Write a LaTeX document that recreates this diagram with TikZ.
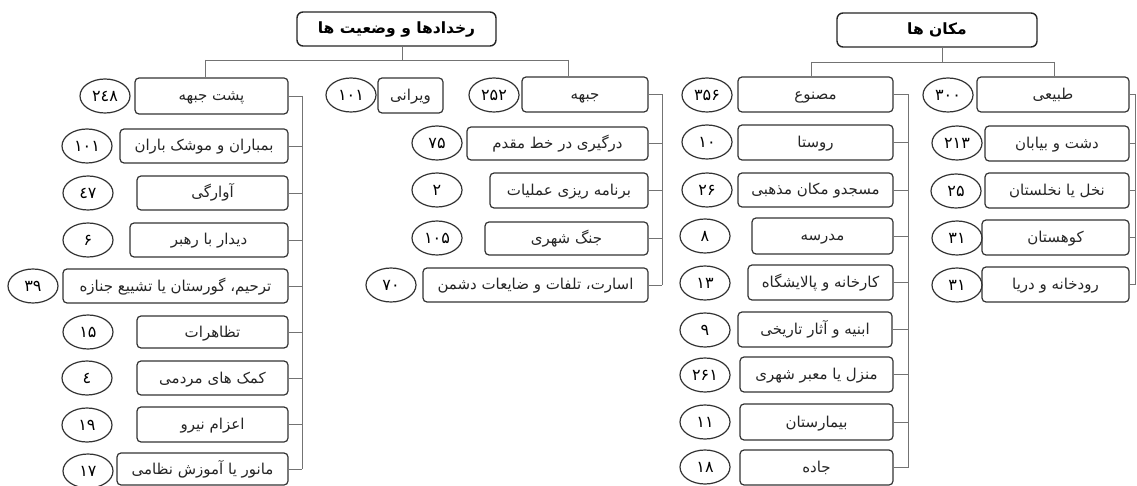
\documentclass[tikz,border=0pt]{standalone}
\usepackage{fontspec}
\usetikzlibrary{shapes.geometric}
\TeXXeTstate=1
\newfontfamily\arabicfont[Script=Arabic]{DejaVu Sans}
\tikzset{
  box/.style={draw=black!80, line width=1.2pt, rounded corners=4pt, inner sep=0pt,
    text height=11pt, text depth=1pt,
    font=\arabicfont\fontsize{15}{17}\selectfont, text=black!85},
  hbox/.style={draw=black!85, line width=1.4pt, rounded corners=6pt, inner sep=0pt,
    text height=11pt, text depth=1pt,
    font=\arabicfont\bfseries\fontsize{15.5}{17}\selectfont},
  num/.style={ellipse, draw=black!80, line width=1.2pt, minimum width=50pt,
    minimum height=34pt, inner sep=0pt, font=\arabicfont\fontsize{16}{18}\selectfont},
  conn/.style={draw=black!55, line width=0.8pt},
}
\newcommand\bx[7][box]{\node[#1, minimum width={#4-#3}, minimum height={#6-#5}] (#2) at ({(#3+#4)/2},{(#5+#6)/2}) {#7};}
\newcommand\nm[4]{\node[num] (#1) at (#2,#3) {#4};}
\begin{document}
\begin{tikzpicture}[x=1pt,y=-1pt]
\fill[white] (0,0) rectangle (1137,486);
\useasboundingbox (0,0) rectangle (1137,486);
% headers
\bx[hbox]{h1}{297}{496}{12}{46}{\beginR رخدادها و وضعیت ها\endR}
\bx[hbox]{h2}{837}{1037}{13}{47}{\beginR مکان ها\endR}
% right group
\bx{t0}{977}{1129}{77}{112}{\beginR طبیعی\endR}
\bx{t1}{985}{1129}{126}{161}{\beginR دشت و بیابان\endR}
\bx{t2}{985}{1129}{173}{208}{\beginR نخل یا نخلستان\endR}
\bx{t3}{982}{1129}{220}{255}{\beginR کوهستان\endR}
\bx{t4}{982}{1129}{267}{302}{\beginR رودخانه و دریا\endR}
\nm{nt0}{948}{95}{۳۰۰}
\nm{nt1}{957}{143}{۲۱۳}
\nm{nt2}{956}{191}{۲۵}
\nm{nt3}{957}{238}{۳۱}
\nm{nt4}{957}{285}{۳۱}
% mid-right group
\bx{m0}{738}{893}{77}{112}{\beginR مصنوع\endR}
\bx{m1}{738}{893}{125}{160}{\beginR روستا\endR}
\bx{m2}{738}{893}{173}{207}{\beginR مسجدو مکان مذهبی\endR}
\bx{m3}{752}{893}{218}{254}{\beginR مدرسه\endR}
\bx{m4}{748}{893}{265}{300}{\beginR کارخانه و پالایشگاه\endR}
\bx{m5}{738}{892}{312}{347}{\beginR ابنیه و آثار تاریخی\endR}
\bx{m6}{740}{893}{357}{392}{\beginR منزل یا معبر شهری\endR}
\bx{m7}{740}{893}{404}{440}{\beginR بیمارستان\endR}
\bx{m8}{740}{893}{450}{485}{\beginR جاده\endR}
\nm{nm0}{707}{95}{۳۵۶}
\nm{nm1}{707}{142}{۱۰}
\nm{nm2}{707}{190}{۲۶}
\nm{nm3}{705}{236}{۸}
\nm{nm4}{705}{283}{۱۳}
\nm{nm5}{705}{330}{۹}
\nm{nm6}{705}{375}{۲۶۱}
\nm{nm7}{705}{422}{۱۱}
\nm{nm8}{705}{467}{۱۸}
% middle group
\bx{j0}{522}{648}{77}{112}{\beginR جبهه\endR}
\bx{v0}{378}{443}{78}{113}{\beginR ویرانی\endR}
\bx{j1}{467}{648}{127}{160}{\beginR درگیری در خط مقدم\endR}
\bx{j2}{490}{648}{173}{208}{\beginR برنامه ریزی عملیات\endR}
\bx{j3}{485}{648}{222}{255}{\beginR جنگ شهری\endR}
\bx{j4}{423}{648}{268}{302}{\beginR اسارت، تلفات و ضایعات دشمن\endR}
\nm{nj0}{494}{95}{۲۵۲}
\nm{nv0}{351}{95}{۱۰۱}
\nm{nj1}{437}{143}{۷۵}
\nm{nj2}{437}{190}{۲}
\nm{nj3}{437}{238}{۱۰۵}
\nm{nj4}{391}{285}{۷۰}
% left group
\bx{p0}{135}{288}{78}{114}{\beginR پشت جبهه\endR}
\bx{p1}{120}{288}{129}{163}{\beginR بمباران و موشک باران\endR}
\bx{p2}{137}{288}{176}{210}{\beginR آوارگی\endR}
\bx{p3}{130}{288}{223}{257}{\beginR دیدار با رهبر\endR}
\bx{p4}{63}{288}{269}{303}{\beginR ترحیم، گورستان یا تشییع جنازه\endR}
\bx{p5}{137}{288}{316}{348}{\beginR تظاهرات\endR}
\bx{p6}{137}{288}{361}{395}{\beginR کمک های مردمی\endR}
\bx{p7}{137}{288}{407}{442}{\beginR اعزام نیرو\endR}
\bx{p8}{117}{288}{453}{485}{\beginR مانور یا آموزش نظامی\endR}
\nm{np0}{105}{96}{۲٤۸}
\nm{np1}{87}{146}{۱۰۱}
\nm{np2}{88}{193}{٤۷}
\nm{np3}{88}{240}{۶}
\nm{np4}{33}{286}{۳۹}
\nm{np5}{88}{332}{۱۵}
\nm{np6}{87}{378}{٤}
\nm{np7}{87}{425}{۱۹}
\nm{np8}{88}{471}{۱۷}
% header connectors
\coordinate (a1) at (205,60);
\coordinate (a2) at (568,60);
\draw[conn] ([xshift=6pt]h1.south) -- ([xshift=6pt]h1.south |- a1);
\draw[conn] (a1) -- (a2);
\draw[conn] (a1) -- (a1 |- p0.north);
\draw[conn] (a2) -- (a2 |- j0.north);
\coordinate (b1) at (811,62);
\coordinate (b2) at (1054,62);
\draw[conn] ([xshift=5pt]h2.south) -- ([xshift=5pt]h2.south |- b1);
\draw[conn] (b1) -- (b2);
\draw[conn] (b1) -- (b1 |- m0.north);
\draw[conn] (b2) -- (b2 |- t0.north);
% group brackets
\coordinate (vt) at (1135,0);
\coordinate (vm) at (908,0);
\coordinate (vj) at (662,0);
\coordinate (vp) at (302,0);
\foreach \n in {t0,t1,t2,t3,t4} \draw[conn] (\n.east) -- (\n.east -| vt);
\draw[conn] (t0.east -| vt) -- (t4.east -| vt);
\foreach \n in {m0,m1,m2,m3,m4,m5,m6,m7,m8} \draw[conn] (\n.east) -- (\n.east -| vm);
\draw[conn] (m0.east -| vm) -- (m8.east -| vm);
\foreach \n in {j0,j1,j2,j3,j4} \draw[conn] (\n.east) -- (\n.east -| vj);
\draw[conn] (j0.east -| vj) -- (j4.east -| vj);
\foreach \n in {p0,p1,p2,p3,p4,p5,p6,p7,p8} \draw[conn] (\n.east) -- (\n.east -| vp);
\draw[conn] (p0.east -| vp) -- (p8.east -| vp);
\end{tikzpicture}
\end{document}
